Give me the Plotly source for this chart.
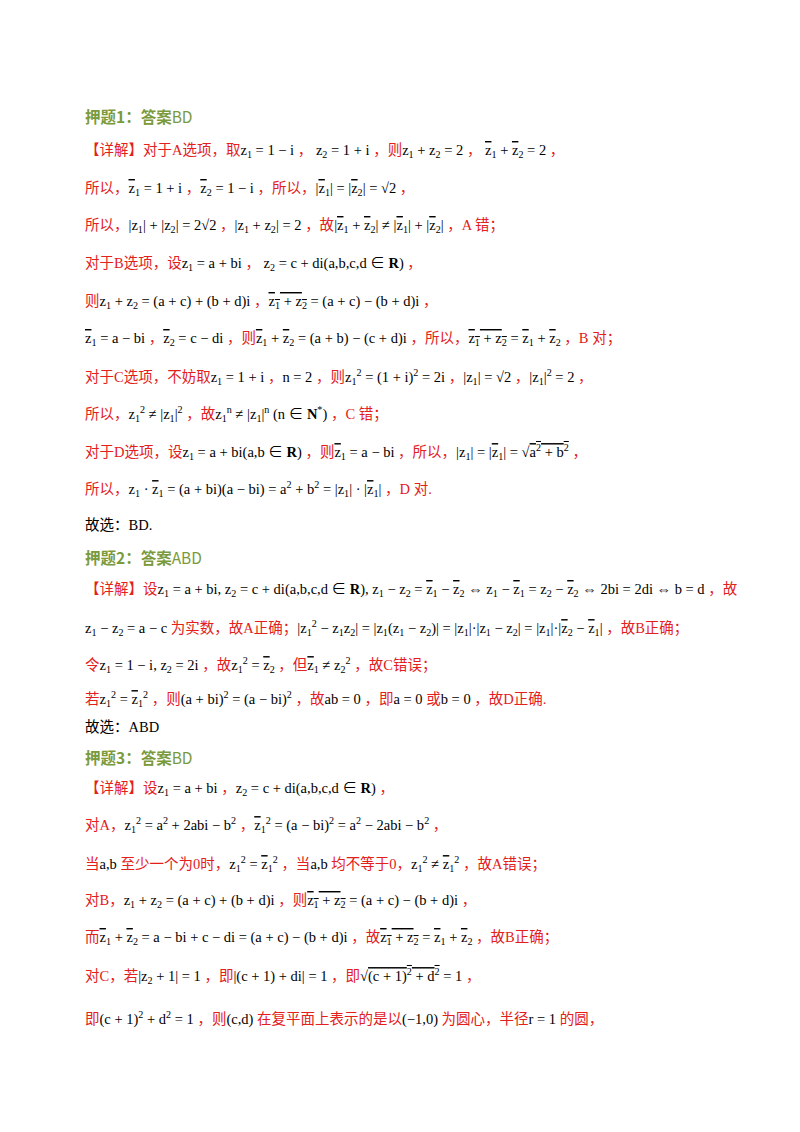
import plotly.graph_objects as go

# page lines: ⟨...⟩ marks black math, the rest is red Chinese text
headings = ["押题1：答案", "押题2：答案", "押题3：答案"]
heading_answers = ["BD", "ABD", "BD"]
heading_y = [108, 549, 749]

lines = [
    "【详解】对于A选项，取⟨Z1 = 1 − i⟩ ， ⟨Z2 = 1 + i⟩ ，则⟨Z1 + Z2 = 2⟩ ， ⟨B1 + B2 = 2⟩ ，",
    "所以，⟨B1 = 1 + i⟩ ，⟨B2 = 1 − i⟩ ，所以，⟨|B1| = |B2| = √2⟩ ，",
    "所以，⟨|Z1| + |Z2| = 2√2⟩ ，⟨|Z1 + Z2| = 2⟩ ，故⟨|B1 + B2| ≠ |B1| + |B2|⟩ ，A 错；",
    "对于B选项，设⟨Z1 = a + bi⟩ ， ⟨Z2 = c + di(a,b,c,d ∈ <b>R</b>)⟩ ，",
    "则⟨Z1 + Z2 = (a + c) + (b + d)i⟩ ，⟨OS = (a + c) − (b + d)i⟩ ，",
    "⟨B1 = a − bi⟩ ，⟨B2 = c − di⟩ ，则⟨B1 + B2 = (a + b) − (c + d)i⟩ ，所以，⟨OS = B1 + B2⟩ ，B 对；",
    "对于C选项，不妨取⟨Z1 = 1 + i⟩ ，⟨n = 2⟩ ，则⟨Z1<sup>2</sup> = (1 + i)<sup>2</sup> = 2i⟩ ，⟨|Z1| = √2⟩ ，⟨|Z1|<sup>2</sup> = 2⟩ ，",
    "所以，⟨Z1<sup>2</sup> ≠ |Z1|<sup>2</sup>⟩ ，故⟨Z1<sup>n</sup> ≠ |Z1|<sup>n</sup> (n ∈ <b>N</b><sup>*</sup>)⟩ ，C 错；",
    "对于D选项，设⟨Z1 = a + bi(a,b ∈ <b>R</b>)⟩ ，则⟨B1 = a − bi⟩ ，所以，⟨|Z1| = |B1| = √<span style='text-decoration:overline'>a<sup>2</sup> + b<sup>2</sup></span>⟩ ，",
    "所以，⟨Z1 · B1 = (a + bi)(a − bi) = a<sup>2</sup> + b<sup>2</sup> = |Z1| · |B1|⟩ ，D 对.",
    "⟨故选：BD.⟩",
    "【详解】设⟨Z1 = a + bi, Z2 = c + di(a,b,c,d ∈ <b>R</b>), Z1 − Z2 = B1 − B2 ⇔ Z1 − B1 = Z2 − B2 ⇔ 2bi = 2di ⇔ b = d⟩ ，故",
    "⟨Z1 − Z2 = a − c⟩ 为实数，故A正确；⟨|Z1<sup>2</sup> − Z1Z2| = |Z1(Z1 − Z2)| = |Z1|·|Z1 − Z2| = |Z1|·|B2 − B1|⟩ ，故B正确；",
    "令⟨Z1 = 1 − i, Z2 = 2i⟩ ，故⟨Z1<sup>2</sup> = B2⟩ ，但⟨B1 ≠ Z2<sup>2</sup>⟩ ，故C错误；",
    "若⟨Z1<sup>2</sup> = B1<sup>2</sup>⟩ ，则⟨(a + bi)<sup>2</sup> = (a − bi)<sup>2</sup>⟩ ，故⟨ab = 0⟩ ，即⟨a = 0⟩ 或⟨b = 0⟩ ，故D正确.",
    "⟨故选：ABD⟩",
    "【详解】设⟨Z1 = a + bi⟩ ，⟨Z2 = c + di(a,b,c,d ∈ <b>R</b>)⟩ ，",
    "对A，⟨Z1<sup>2</sup> = a<sup>2</sup> + 2abi − b<sup>2</sup>⟩ ，⟨B1<sup>2</sup> = (a − bi)<sup>2</sup> = a<sup>2</sup> − 2abi − b<sup>2</sup>⟩ ，",
    "当⟨a,b⟩ 至少一个为0时，⟨Z1<sup>2</sup> = B1<sup>2</sup>⟩ ，当⟨a,b⟩ 均不等于0，⟨Z1<sup>2</sup> ≠ B1<sup>2</sup>⟩ ，故A错误；",
    "对B，⟨Z1 + Z2 = (a + c) + (b + d)i⟩ ，则⟨OS = (a + c) − (b + d)i⟩ ，",
    "而⟨B1 + B2 = a − bi + c − di = (a + c) − (b + d)i⟩ ，故⟨OS = B1 + B2⟩ ，故B正确；",
    "对C，若⟨|Z2 + 1| = 1⟩ ，即⟨|(c + 1) + di| = 1⟩ ，即⟨√<span style='text-decoration:overline'>(c + 1)<sup>2</sup> + d<sup>2</sup></span> = 1⟩ ，",
    "即⟨(c + 1)<sup>2</sup> + d<sup>2</sup> = 1⟩ ，则⟨(c,d)⟩ 在复平面上表示的是以⟨(−1,0)⟩ 为圆心，半径⟨r = 1⟩ 的圆，",
]
line_y = [143, 181, 218, 256, 294, 331, 369, 406, 444, 481, 517,
          582, 620, 657, 691, 719,
          781, 817, 856, 893, 930, 968, 1010]

RED = "#e3201b"
GREEN = "#7a9a3c"
OVER = "<span style='text-decoration:overline'>"
TOKENS = {
    "OS": OVER + "z<sub>1</sub> + z<sub>2</sub></span>",
    "B1": OVER + "z</span><sub>1</sub>",
    "B2": OVER + "z</span><sub>2</sub>",
    "Z1": "z<sub>1</sub>",
    "Z2": "z<sub>2</sub>",
}


def render(line):
    out = ""
    rest = line
    while rest:
        if "⟨" in rest:
            pre, after = rest.split("⟨", 1)
            math, rest = after.split("⟩", 1)
        else:
            pre, math, rest = rest, "", ""
        if pre:
            out += f"<span style='color:{RED}'>{pre}</span>"
        if math:
            for k, v in TOKENS.items():
                math = math.replace(k, v)
            out += f"<span style='color:#000'>{math}</span>"
    return out


fig = go.Figure()
for h, a, y in zip(headings, heading_answers, heading_y):
    fig.add_annotation(x=75, y=y, xanchor="left", yanchor="middle", showarrow=False,
                       text=f"<b>{h}</b>{a}",
                       font=dict(family="Noto Sans CJK SC", size=15.5, color=GREEN))
for ln, y in zip(lines, line_y):
    fig.add_annotation(x=75, y=y, xanchor="left", yanchor="middle", showarrow=False,
                       text=render(ln),
                       font=dict(family="Liberation Serif, Noto Sans CJK SC", size=14.5))

fig.update_layout(
    width=800, height=1132, margin=dict(l=0, r=0, t=0, b=0),
    paper_bgcolor="white", plot_bgcolor="white", showlegend=False,
    xaxis=dict(range=[0, 800], visible=False, fixedrange=True),
    yaxis=dict(range=[1132, 0], visible=False, fixedrange=True),
)
fig.write_html("out.html")
